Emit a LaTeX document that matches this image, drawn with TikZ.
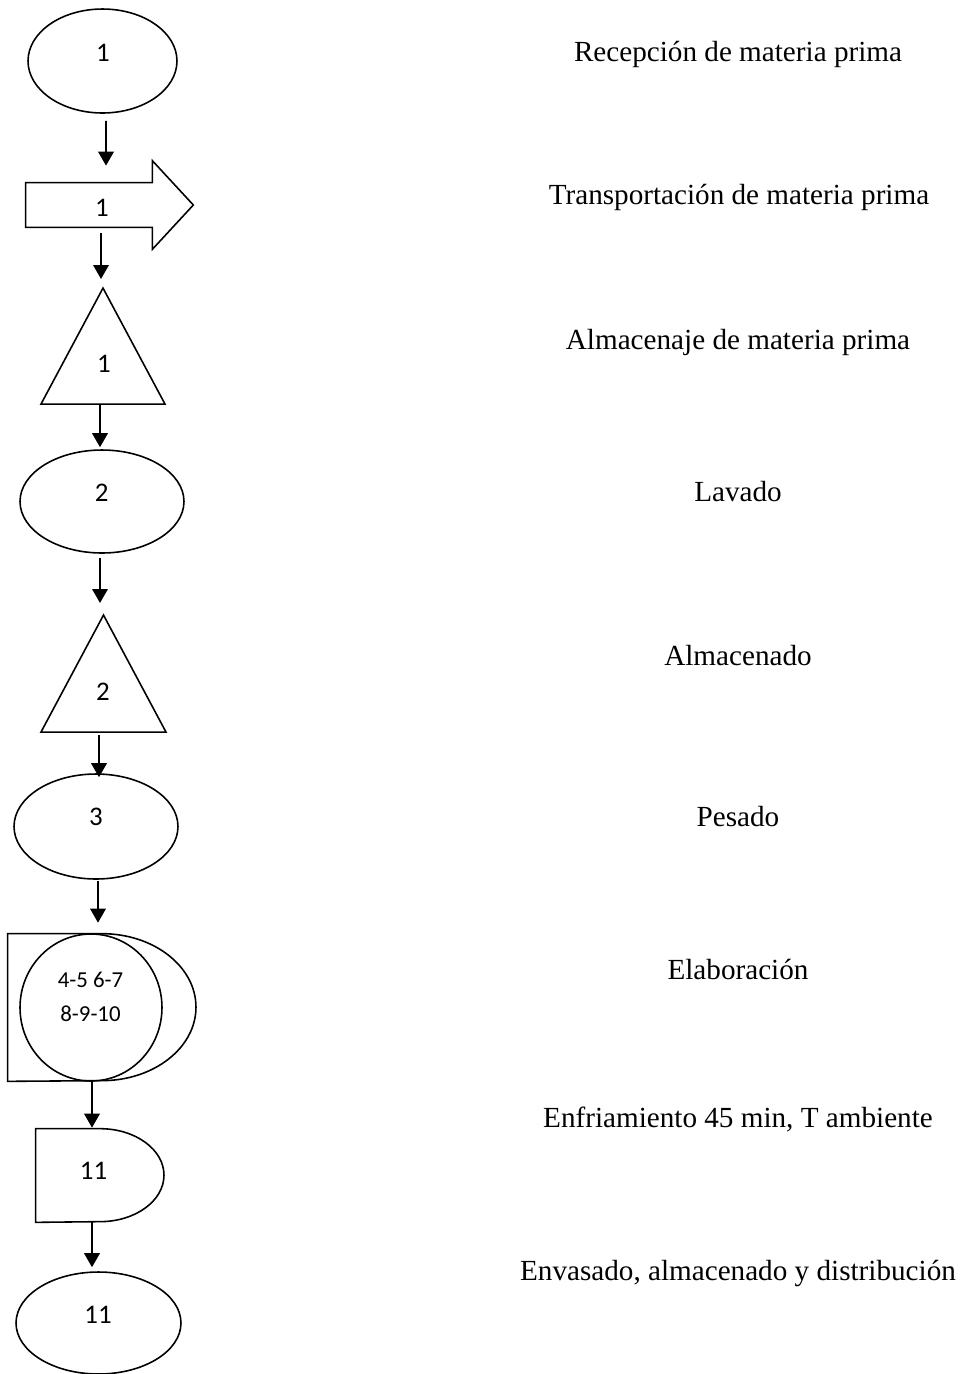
\documentclass[tikz,border=0pt]{standalone}
\usepackage{fontspec}
\setmainfont{Liberation Serif}
\newfontfamily\numfont{Carlito}
\usetikzlibrary{shapes.geometric,arrows.meta}
\begin{document}
\begin{tikzpicture}[x=0.02cm,y=-0.02cm,
	op/.style={ellipse,draw,line width=0.9pt,inner sep=0},
	store/.style={isosceles triangle,isosceles triangle stretches,shape border rotate=90,draw,line width=0.9pt,inner sep=0,anchor=apex},
	frame/.style={rectangle,inner sep=0},
	outline/.style={line width=0.9pt,line join=miter},
	num/.style={font=\numfont\fontsize{15.3}{18}\selectfont,inner sep=0},
	desc/.style={font=\fontsize{16.6}{20}\selectfont,anchor=base,inner sep=0},
	flow/.style={line width=1.1pt,-{Triangle[length=0.28cm,width=0.31cm]}}]
\useasboundingbox (0,0) rectangle (966,1374);
% symbols
\node[op,minimum width=2.98cm,minimum height=2.08cm] (op1) at (102.5,61) {};
\node[num] (op1n) at (103,52.5) {1};
\node[frame,minimum width=2.52cm,minimum height=0.88cm] (tr1) at (89,205) {};
\draw[outline] (tr1.north west) -- (tr1.north east) -- ++(0,-22) -- ([xshift=0.82cm]tr1.east) -- ([shift={(0,22)}]tr1.south east) -- (tr1.south east) -- (tr1.south west) -- cycle;
\node[num] (tr1n) at (102,208) {1};
\node[store,minimum width=2.48cm,minimum height=2.32cm] (al1) at (103,286) {};
\node[num] (al1n) at (104,363.5) {1};
\node[op,minimum width=3.28cm,minimum height=2.06cm] (op2) at (102,501.5) {};
\node[num] (op2n) at (101.7,492.5) {2};
\node[store,minimum width=2.5cm,minimum height=2.34cm] (al2) at (103.5,613) {};
\node[num] (al2n) at (103,691.7) {2};
\node[op,minimum width=3.28cm,minimum height=2.1cm] (op3) at (96,826.5) {};
\node[num] (op3n) at (96,817) {3};
\node[frame,minimum width=3.76cm,minimum height=2.94cm] (elab) at (102,1007.5) {};
\draw[outline] (elab.north west) -- (elab.north) arc[start angle=90,end angle=-90,x radius=1.88cm,y radius=1.47cm] -- (elab.south west) -- cycle;
\node[op,minimum width=2.84cm,minimum height=2.94cm] (elabc) at (91,1007.5) {};
\node[num,align=center,font=\numfont\fontsize{13}{19.4}\selectfont] (elabn) at (90.5,997) {4-5 6-7\\8-9-10};
\node[frame,minimum width=2.56cm,minimum height=1.86cm] (enf) at (100,1175.5) {};
\draw[outline] (enf.north west) -- (enf.north) arc[start angle=90,end angle=-90,x radius=1.28cm,y radius=0.93cm] -- (enf.south west) -- cycle;
\node[num] (enfn) at (93.5,1170.5) {11};
\node[op,minimum width=3.3cm,minimum height=2.04cm] (op4) at (98.5,1323) {};
\node[num] (op4n) at (98,1315) {11};
% connectors
\draw[flow] ([shift={(3.5,7)}]op1.south) -- ([shift={(17,-17)}]tr1.north);
\draw[flow] ([shift={(12,6)}]tr1.south) -- ([shift={(-2,-7)}]al1.apex);
\draw[flow] ([shift={(-3,0)}]al1.lower side) -- ([shift={(-2,-2)}]op2.north);
\draw[flow] ([shift={(-2,4)}]op2.south) -- ([shift={(-3.5,-10)}]al2.apex);
\draw[flow] ([shift={(-4.5,2)}]al2.lower side) -- ([shift={(3,4)}]op3.north);
\draw[flow] ([shift={(2,1)}]op3.south) -- ([shift={(-4,-11)}]elab.north);
\draw[flow] ([shift={(-10,1)}]elab.south) -- ([shift={(-8,-1)}]enf.north);
\draw[flow] ([shift={(-8,0)}]enf.south) -- ([shift={(-6.5,-4)}]op4.north);
% descriptions
\node[desc] (d1) at (738,61) {Recepción de materia prima};
\node[desc] (d2) at (739,204) {Transportación de materia prima};
\node[desc] (d3) at (738,349) {Almacenaje de materia prima};
\node[desc] (d4) at (738,501) {Lavado};
\node[desc] (d5) at (738,665) {Almacenado};
\node[desc] (d6) at (738,826) {Pesado};
\node[desc] (d7) at (738,979) {Elaboración};
\node[desc] (d8) at (738,1127) {Enfriamiento 45 min, T ambiente};
\node[desc] (d9) at (738,1280) {Envasado, almacenado y distribución};
\end{tikzpicture}
\end{document}
